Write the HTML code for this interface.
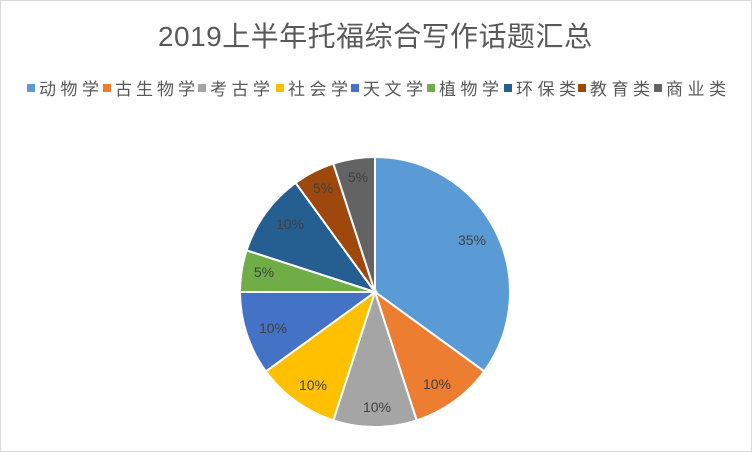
<!DOCTYPE html>
<html><head><meta charset="utf-8"><style>
html,body{margin:0;padding:0;background:#fff;}
svg{display:block;font-family:"Liberation Sans","Noto Sans CJK SC",sans-serif;}
</style></head><body>
<svg width="752" height="452" viewBox="0 0 752 452">
<rect x="0.5" y="0.5" width="751" height="451" fill="#fff" stroke="#d9d9d9"/>
<text x="158" y="46" font-size="28" fill="#595959" textLength="434" lengthAdjust="spacing">2019上半年托福综合写作话题汇总</text>
<g font-size="17" fill="#595959">
<rect x="27" y="84" width="8" height="8" fill="#5B9BD5"/><text x="39" y="95" textLength="60">动物学</text>
<rect x="103" y="84" width="8" height="8" fill="#ED7D31"/><text x="115" y="95" textLength="80">古生物学</text>
<rect x="198" y="84" width="8" height="8" fill="#A5A5A5"/><text x="210" y="95" textLength="60">考古学</text>
<rect x="276" y="84" width="8" height="8" fill="#FFC000"/><text x="288" y="95" textLength="60">社会学</text>
<rect x="351" y="84" width="8" height="8" fill="#4472C4"/><text x="363" y="95" textLength="60">天文学</text>
<rect x="427" y="84" width="8" height="8" fill="#70AD47"/><text x="439" y="95" textLength="60">植物学</text>
<rect x="504" y="84" width="8" height="8" fill="#255E91"/><text x="516" y="95" textLength="60">环保类</text>
<rect x="578" y="84" width="8" height="8" fill="#9E480E"/><text x="590" y="95" textLength="60">教育类</text>
<rect x="654" y="84" width="8" height="8" fill="#636363"/><text x="666" y="95" textLength="60">商业类</text>
</g>
<g stroke="#fff" stroke-width="2">
<path d="M375,292 L375,157 A135,135 0 0 1 484.2,371.4 Z" fill="#5B9BD5"/>
<path d="M375,292 L484.2,371.4 A135,135 0 0 1 416.7,420.4 Z" fill="#ED7D31"/>
<path d="M375,292 L416.7,420.4 A135,135 0 0 1 333.3,420.4 Z" fill="#A5A5A5"/>
<path d="M375,292 L333.3,420.4 A135,135 0 0 1 265.8,371.4 Z" fill="#FFC000"/>
<path d="M375,292 L265.8,371.4 A135,135 0 0 1 240,292 Z" fill="#4472C4"/>
<path d="M375,292 L240,292 A135,135 0 0 1 246.6,250.3 Z" fill="#70AD47"/>
<path d="M375,292 L246.6,250.3 A135,135 0 0 1 295.6,182.8 Z" fill="#255E91"/>
<path d="M375,292 L295.6,182.8 A135,135 0 0 1 333.3,163.6 Z" fill="#9E480E"/>
<path d="M375,292 L333.3,163.6 A135,135 0 0 1 375,157 Z" fill="#636363"/>
</g>
<g font-size="14" fill="#404040" text-anchor="middle">
<text x="472" y="245">35%</text>
<text x="437" y="389">10%</text>
<text x="377" y="412">10%</text>
<text x="313" y="390">10%</text>
<text x="273" y="333">10%</text>
<text x="264" y="277">5%</text>
<text x="290" y="229">10%</text>
<text x="323" y="193">5%</text>
<text x="358" y="182">5%</text>
</g>
</svg>
</body></html>
